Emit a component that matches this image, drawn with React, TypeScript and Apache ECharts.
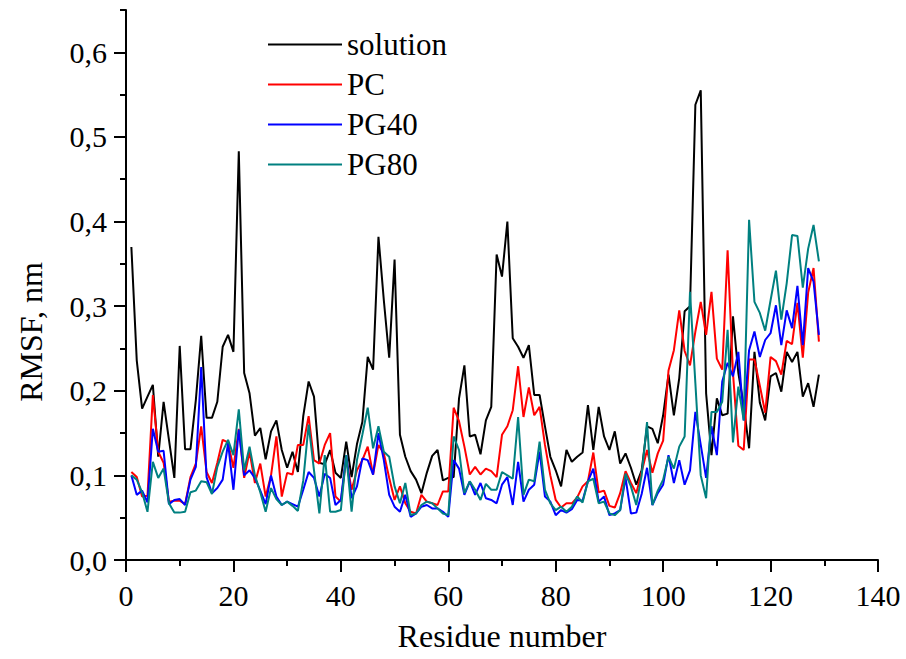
import React, { useEffect, useRef } from "react";
import * as echarts from "echarts";

const residues: number[] = Array.from({ length: 129 }, (_, i) => i + 1);

const solution: number[] = [
  0.370, 0.236, 0.179, 0.193, 0.207, 0.122, 0.187, 0.142, 0.097, 0.253,
  0.131, 0.131, 0.189, 0.265, 0.168, 0.168, 0.187, 0.252, 0.266, 0.246,
  0.483, 0.221, 0.197, 0.147, 0.156, 0.119, 0.152, 0.165, 0.130, 0.109,
  0.128, 0.104, 0.170, 0.211, 0.193, 0.115, 0.113, 0.130, 0.103, 0.097,
  0.140, 0.098, 0.137, 0.163, 0.240, 0.225, 0.382, 0.307, 0.239, 0.355,
  0.148, 0.122, 0.105, 0.095, 0.079, 0.103, 0.123, 0.130, 0.094, 0.097,
  0.098, 0.191, 0.230, 0.146, 0.148, 0.125, 0.165, 0.181, 0.361, 0.335,
  0.400, 0.262, 0.252, 0.239, 0.254, 0.195, 0.195, 0.158, 0.122, 0.106,
  0.087, 0.130, 0.116, 0.122, 0.127, 0.183, 0.130, 0.181, 0.146, 0.130,
  0.152, 0.114, 0.126, 0.109, 0.089, 0.106, 0.158, 0.155, 0.138, 0.171,
  0.219, 0.171, 0.215, 0.294, 0.300, 0.538, 0.555, 0.197, 0.124, 0.191,
  0.171, 0.173, 0.288, 0.221, 0.183, 0.132, 0.246, 0.186, 0.165, 0.217,
  0.221, 0.199, 0.246, 0.234, 0.246, 0.193, 0.209, 0.181, 0.219,
];

const pc: number[] = [
  0.104, 0.098, 0.075, 0.076, 0.195, 0.128, 0.115, 0.069, 0.070, 0.070,
  0.066, 0.098, 0.114, 0.158, 0.104, 0.091, 0.115, 0.142, 0.139, 0.109,
  0.155, 0.097, 0.128, 0.091, 0.114, 0.075, 0.100, 0.146, 0.075, 0.103,
  0.101, 0.136, 0.136, 0.170, 0.118, 0.114, 0.136, 0.150, 0.075, 0.069,
  0.120, 0.083, 0.106, 0.118, 0.134, 0.101, 0.136, 0.126, 0.097, 0.071,
  0.087, 0.067, 0.057, 0.055, 0.077, 0.069, 0.067, 0.065, 0.081, 0.081,
  0.180, 0.164, 0.134, 0.101, 0.110, 0.101, 0.108, 0.105, 0.098, 0.148,
  0.158, 0.177, 0.229, 0.169, 0.204, 0.171, 0.181, 0.136, 0.100, 0.071,
  0.062, 0.067, 0.067, 0.074, 0.087, 0.093, 0.127, 0.080, 0.082, 0.064,
  0.062, 0.079, 0.105, 0.091, 0.079, 0.104, 0.130, 0.103, 0.126, 0.141,
  0.224, 0.248, 0.295, 0.247, 0.230, 0.270, 0.305, 0.266, 0.317, 0.238,
  0.225, 0.366, 0.221, 0.135, 0.130, 0.237, 0.237, 0.206, 0.174, 0.240,
  0.235, 0.219, 0.259, 0.255, 0.304, 0.239, 0.316, 0.345, 0.258,
];

const pg40: number[] = [
  0.100, 0.077, 0.082, 0.068, 0.155, 0.128, 0.129, 0.066, 0.071, 0.072,
  0.065, 0.095, 0.110, 0.228, 0.098, 0.079, 0.085, 0.095, 0.138, 0.083,
  0.154, 0.100, 0.106, 0.097, 0.082, 0.066, 0.100, 0.075, 0.065, 0.069,
  0.066, 0.063, 0.083, 0.104, 0.097, 0.075, 0.102, 0.097, 0.065, 0.071,
  0.124, 0.073, 0.087, 0.120, 0.118, 0.101, 0.150, 0.118, 0.077, 0.063,
  0.057, 0.077, 0.051, 0.055, 0.063, 0.065, 0.061, 0.061, 0.057, 0.051,
  0.118, 0.108, 0.077, 0.093, 0.077, 0.091, 0.073, 0.071, 0.067, 0.089,
  0.098, 0.065, 0.116, 0.069, 0.083, 0.089, 0.128, 0.075, 0.069, 0.053,
  0.059, 0.056, 0.060, 0.071, 0.070, 0.093, 0.108, 0.069, 0.075, 0.053,
  0.055, 0.059, 0.097, 0.055, 0.056, 0.078, 0.109, 0.065, 0.079, 0.089,
  0.124, 0.091, 0.118, 0.089, 0.106, 0.175, 0.136, 0.097, 0.158, 0.124,
  0.211, 0.233, 0.217, 0.246, 0.165, 0.248, 0.270, 0.240, 0.260, 0.268,
  0.301, 0.254, 0.295, 0.274, 0.324, 0.254, 0.345, 0.329, 0.266,
];

const pg80: number[] = [
  0.100, 0.095, 0.080, 0.057, 0.116, 0.097, 0.108, 0.067, 0.056, 0.056,
  0.057, 0.080, 0.082, 0.093, 0.092, 0.078, 0.110, 0.128, 0.142, 0.124,
  0.178, 0.106, 0.134, 0.100, 0.080, 0.057, 0.085, 0.072, 0.065, 0.069,
  0.064, 0.058, 0.094, 0.160, 0.106, 0.055, 0.124, 0.057, 0.057, 0.059,
  0.124, 0.057, 0.118, 0.148, 0.180, 0.132, 0.158, 0.128, 0.122, 0.087,
  0.067, 0.091, 0.053, 0.055, 0.065, 0.069, 0.067, 0.061, 0.055, 0.053,
  0.146, 0.130, 0.079, 0.093, 0.083, 0.071, 0.090, 0.083, 0.083, 0.104,
  0.100, 0.096, 0.169, 0.077, 0.095, 0.093, 0.140, 0.083, 0.067, 0.059,
  0.063, 0.057, 0.063, 0.075, 0.068, 0.093, 0.096, 0.067, 0.069, 0.055,
  0.053, 0.059, 0.102, 0.087, 0.065, 0.100, 0.163, 0.065, 0.082, 0.095,
  0.122, 0.108, 0.134, 0.146, 0.317, 0.209, 0.100, 0.073, 0.175, 0.175,
  0.187, 0.272, 0.139, 0.205, 0.165, 0.402, 0.305, 0.292, 0.271, 0.307,
  0.342, 0.284, 0.327, 0.384, 0.383, 0.322, 0.368, 0.396, 0.353,
];

const yMajorTicks: number[] = [0, 0.1, 0.2, 0.3, 0.4, 0.5, 0.6];
const yMinorTicks: number[] = [0.05, 0.15, 0.25, 0.35, 0.45, 0.55, 0.65];

const seriesNames = ["solution", "PC", "PG40", "PG80"];
const seriesColors = ["#000000", "#ff0000", "#0000ff", "#008080"];
const seriesValues = [solution, pc, pg40, pg80];

const FONT = "'Liberation Serif', 'Times New Roman', serif";

export default function App() {
  const ref = useRef<HTMLDivElement>(null);

  useEffect(() => {
    document.body.style.margin = "0";
    if (!ref.current) return;
    const chart = echarts.init(ref.current, null, { renderer: "svg" });
    const axisColor = "#000";
    chart.setOption({
      animation: false,
      backgroundColor: "#fff",
      textStyle: { fontFamily: FONT, color: "#000" },
      grid: { left: 126, right: 28, top: 10, bottom: 99, containLabel: false },
      legend: {
        orient: "vertical",
        left: 263,
        top: 24,
        icon: "rect",
        itemWidth: 74,
        itemHeight: 2,
        itemGap: 9,
        textStyle: { fontFamily: FONT, fontSize: 31, color: "#000", lineHeight: 31 },
        data: seriesNames,
      },
      xAxis: {
        type: "value",
        min: 0,
        max: 140,
        interval: 20,
        name: "Residue number",
        nameLocation: "middle",
        nameGap: 60,
        nameTextStyle: { fontFamily: FONT, fontSize: 32, color: "#000" },
        axisLine: { onZero: false, lineStyle: { color: axisColor, width: 2 } },
        axisTick: { inside: false, length: 12, lineStyle: { color: axisColor, width: 2 } },
        minorTick: { show: true, splitNumber: 2, length: 6, lineStyle: { color: axisColor, width: 2 } },
        axisLabel: { margin: 20, fontFamily: FONT, fontSize: 30, color: "#000" },
        splitLine: { show: false },
        minorSplitLine: { show: false },
      },
      yAxis: [
        {
          type: "value",
          min: 0,
          max: 0.65,
          interval: 0.1,
          axisLine: { onZero: false, lineStyle: { color: axisColor, width: 2 } },
          axisTick: {
            inside: false,
            length: 12,
            customValues: yMajorTicks,
            lineStyle: { color: axisColor, width: 2 },
          },
          axisLabel: {
            margin: 19,
            fontFamily: FONT,
            fontSize: 30,
            color: "#000",
            customValues: yMajorTicks,
            formatter: (v: number) => v.toFixed(1).replace(".", ","),
          },
          splitLine: { show: false },
        },
        {
          type: "value",
          min: 0,
          max: 0.65,
          position: "left",
          offset: 0,
          axisLine: { show: false },
          axisTick: {
            show: true,
            inside: false,
            length: 6,
            customValues: yMinorTicks,
            lineStyle: { color: axisColor, width: 2 },
          },
          axisLabel: { show: false },
          splitLine: { show: false },
        },
      ],
      graphic: [
        {
          type: "text",
          x: 31,
          y: 332,
          rotation: Math.PI / 2,
          style: {
            text: "RMSF, nm",
            font: `32px ${FONT}`,
            fill: "#000",
            textAlign: "center",
            textVerticalAlign: "middle",
          },
        },
      ],
      series: seriesNames.map((name, k) => ({
        name,
        type: "line",
        yAxisIndex: 0,
        symbol: "none",
        showSymbol: false,
        lineStyle: { color: seriesColors[k], width: 2 },
        itemStyle: { color: seriesColors[k] },
        data: residues.map((r, i) => [r, seriesValues[k][i]]),
      })),
    });
    return () => chart.dispose();
  }, []);

  return <div ref={ref} style={{ width: 906, height: 659 }} />;
}
